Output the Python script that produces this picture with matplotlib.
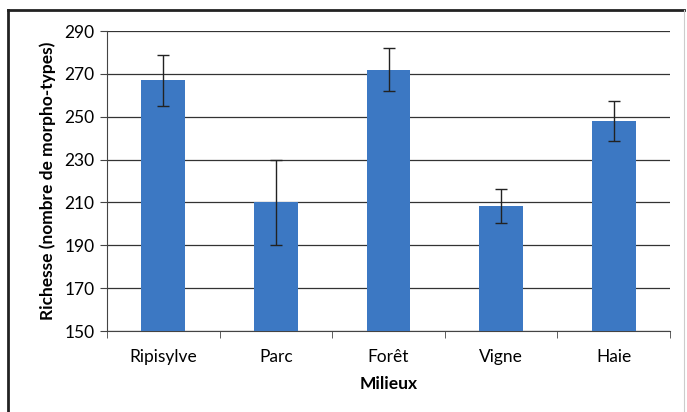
import matplotlib.pyplot as plt
from matplotlib.lines import Line2D
import numpy as np

milieux = ["Ripisylve", "Parc", "Forêt", "Vigne", "Haie"]
richesse = [267, 210, 272, 208.5, 248]
erreur = [12, 20, 10, 8, 9.5]
y_ticks = [150, 170, 190, 210, 230, 250, 270, 290]

plt.rcParams['font.family'] = ['Lato', 'DejaVu Sans']

fig = plt.figure(figsize=(6.87, 4.12), dpi=100)
ax = fig.add_axes([107 / 687, 1 - 331 / 412, (670 - 107) / 687, 300 / 412])

x = np.arange(len(milieux))
ax.bar(x, [v - 150 for v in richesse], bottom=150, width=0.39, color="#3c78c3", zorder=3)
ax.errorbar(x, richesse, yerr=erreur, fmt="none", ecolor="#222222",
            elinewidth=1, capsize=4, capthick=1, zorder=4)

ax.set_ylim(150, 290)
ax.set_xlim(-0.5, len(milieux) - 0.5)
ax.set_yticks(y_ticks)
ax.yaxis.grid(True, color="#333333", linewidth=0.9, zorder=0)
ax.set_xticks(x)
ax.set_xticklabels(milieux)
ax.set_xticks(np.arange(-0.5, len(milieux)), minor=True)
ax.tick_params(axis="x", which="major", length=0, pad=13, labelsize=12.5)
ax.tick_params(axis="x", which="minor", length=5, direction="out", color="#444444")
ax.tick_params(axis="y", length=5, direction="out", color="#444444", labelsize=12.5, pad=4)

for s in ["top", "right"]:
    ax.spines[s].set_visible(False)
ax.spines["left"].set_color("#444444")
ax.spines["bottom"].set_color("#444444")

ax.set_ylabel("Richesse (nombre de morpho-types)", fontweight="bold", fontsize=12.5, labelpad=6)
ax.set_xlabel("Milieux", fontweight="bold", fontsize=12.5, labelpad=8)

# cadre autour du graphique
fig.add_artist(Line2D([8 / 687, 8 / 687], [0, 1 - 10 / 412], color="#222222", linewidth=2))
fig.add_artist(Line2D([8 / 687, 684 / 687], [1 - 10 / 412, 1 - 10 / 412], color="#222222", linewidth=2))
fig.add_artist(Line2D([684 / 687, 684 / 687], [0, 1 - 10 / 412], color="#cccccc", linewidth=0.8))

fig.savefig("out.png", dpi=100)
